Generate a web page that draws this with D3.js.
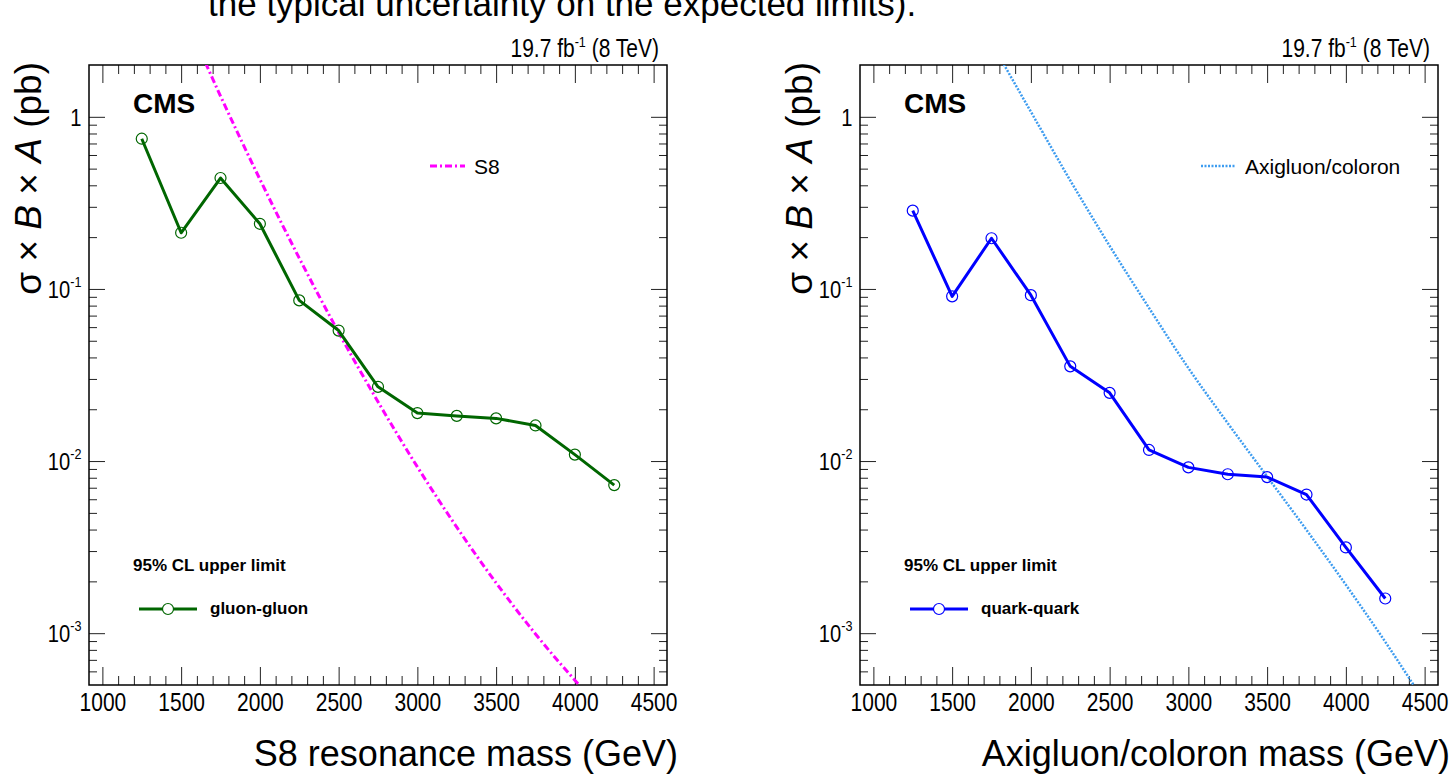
<!DOCTYPE html>
<html>
<head>
<meta charset="utf-8">
<script src="https://cdn.jsdelivr.net/npm/d3@7"></script>
<style>
  html, body { margin: 0; padding: 0; background: #fff; }
  svg { display: block; }
  text { font-family: "Liberation Sans", Arial, Helvetica, sans-serif; fill: #000; }
</style>
</head>
<body>
<svg id="chart" width="1451" height="774"></svg>
<script>
// --- data ---
const massPoints = [1250, 1500, 1750, 2000, 2250, 2500, 2750, 3000, 3250, 3500, 3750, 4000, 4250];
const gluonLimit = [0.746, 0.212, 0.441, 0.239, 0.0858, 0.0573, 0.0270, 0.0190, 0.0183, 0.0177, 0.0161, 0.0109, 0.00725];
const quarkLimit = [0.285, 0.0906, 0.197, 0.0920, 0.0355, 0.0249, 0.0116, 0.00919, 0.00838, 0.00807, 0.00639, 0.00315, 0.00159];

// theory curves
const s8Mass = [1500, 1750, 2000, 2250, 2500, 2750, 3000, 3250, 3500, 3750, 4000, 4250];
const s8Xsec = [4.3, 1.32, 0.434, 0.151, 0.0559, 0.0221, 0.00925, 0.00413, 0.00196, 0.00099, 0.000533, 0.000305];
const axiMass = [1750, 2000, 2250, 2500, 2750, 3000, 3250, 3500, 3750, 4000, 4250, 4500];
const axiXsec = [2.69, 1.07, 0.427, 0.178, 0.0776, 0.0347, 0.0166, 0.00813, 0.00398, 0.00191, 0.000891, 0.000398];

const xMajorTicks = [1000, 1500, 2000, 2500, 3000, 3500, 4000, 4500];
const yMajorExp = [0, -1, -2, -3];

const svg = d3.select("#chart");
const NARROW = 0.84; // ROOT labels are drawn in a condensed face

// slide text cut at the top
svg.append("text")
    .attr("x", 208).attr("y", 16)
    .attr("font-size", 35)
    .text("the typical uncertainty on the expected limits).");

function drawPanel(dx, opt) {
    const left = 89 + dx, right = 667 + dx, top = 65, bottom = 685;
    const g = svg.append("g");

    const x = d3.scaleLinear().domain([915, 4585]).range([left, right]);
    const y = d3.scaleLog().domain([5e-4, 2]).range([bottom, top]);

    const clipId = "clip" + dx;
    g.append("clipPath").attr("id", clipId)
        .append("rect").attr("x", left).attr("y", top)
        .attr("width", right - left).attr("height", bottom - top);

    // x ticks
    const xMinor = d3.range(1000, 4600, 100).filter(v => v % 500 !== 0 && v > 915 && v < 4585);
    const bottomAxis = g.append("g").attr("transform", `translate(0,${bottom})`)
        .call(d3.axisBottom(x).tickValues(xMajorTicks).tickSize(-18).tickPadding(8).tickFormat(d3.format("d")));
    bottomAxis.selectAll("text")
        .attr("font-family", null).attr("font-size", 25)
        .attr("transform", `scale(${NARROW},1)`);
    g.append("g").attr("transform", `translate(0,${bottom})`)
        .call(d3.axisBottom(x).tickValues(xMinor).tickSize(-9).tickFormat(""));
    g.append("g").attr("transform", `translate(0,${top})`)
        .call(d3.axisTop(x).tickValues(xMajorTicks).tickSize(-18).tickFormat(""));
    g.append("g").attr("transform", `translate(0,${top})`)
        .call(d3.axisTop(x).tickValues(xMinor).tickSize(-9).tickFormat(""));

    // y ticks (log)
    const yMajor = yMajorExp.map(e => Math.pow(10, e));
    const yMinor = [];
    [-4, -3, -2, -1, 0].forEach(e => {
        for (let k = 2; k <= 9; k++) {
            const v = k * Math.pow(10, e);
            if (v > 5e-4 && v < 2) yMinor.push(v);
        }
    });
    const leftAxis = g.append("g").attr("transform", `translate(${left},0)`)
        .call(d3.axisLeft(y).tickValues(yMajor).tickSize(-16).tickPadding(9).tickFormat(""));
    leftAxis.selectAll(".tick").each(function(d, i) {
        const e = yMajorExp[i];
        const t = d3.select(this).select("text")
            .attr("font-family", null)
            .attr("font-size", 24).attr("dy", "0.36em")
            .attr("transform", `scale(${NARROW},1)`);
        if (e === 0) {
            t.text("1");
        } else {
            t.append("tspan").text("10");
            t.append("tspan").attr("font-size", 15).attr("dy", "-0.75em").text(String(e));
        }
    });
    g.append("g").attr("transform", `translate(${left},0)`)
        .call(d3.axisLeft(y).tickValues(yMinor).tickSize(-8).tickFormat(""));
    g.append("g").attr("transform", `translate(${right},0)`)
        .call(d3.axisRight(y).tickValues(yMajor).tickSize(-16).tickFormat(""));
    g.append("g").attr("transform", `translate(${right},0)`)
        .call(d3.axisRight(y).tickValues(yMinor).tickSize(-8).tickFormat(""));

    g.selectAll(".domain").remove();
    g.selectAll(".tick line").attr("stroke", "#222").attr("stroke-width", 1);

    // frame
    g.append("rect").attr("x", left).attr("y", top)
        .attr("width", right - left).attr("height", bottom - top)
        .attr("fill", "none").attr("stroke", "#000").attr("stroke-width", 1.5);

    // theory curve
    const theory = opt.theoryMass.map((m, i) => [m, opt.theoryXsec[i]]);
    g.append("path")
        .datum(theory)
        .attr("clip-path", `url(#${clipId})`)
        .attr("fill", "none")
        .attr("stroke", opt.theoryColor)
        .attr("stroke-width", opt.theoryWidth)
        .attr("stroke-dasharray", opt.theoryDash)
        .attr("d", d3.line().x(d => x(d[0])).y(d => y(d[1])).curve(d3.curveMonotoneX));

    // limit line + markers
    const pts = massPoints.map((m, i) => [m, opt.limit[i]]);
    g.append("path")
        .datum(pts)
        .attr("clip-path", `url(#${clipId})`)
        .attr("fill", "none")
        .attr("stroke", opt.color)
        .attr("stroke-width", 3)
        .attr("stroke-linejoin", "round")
        .attr("d", d3.line().x(d => x(d[0])).y(d => y(d[1])));
    g.selectAll(null).data(pts).join("circle")
        .attr("cx", d => x(d[0])).attr("cy", d => y(d[1]))
        .attr("r", 5.5)
        .attr("fill", "none")
        .attr("stroke", opt.color)
        .attr("stroke-width", 1.2);

    // lumi label
    g.append("g").attr("transform", `translate(${right - 8},57) scale(${NARROW},1)`)
        .append("text")
        .attr("font-size", 25).attr("text-anchor", "end")
        .call(t => {
            t.append("tspan").text("19.7 fb");
            t.append("tspan").attr("font-size", 15).attr("dy", "-0.7em").text("-1");
            t.append("tspan").attr("dy", "0.42em").text(" (8 TeV)");
        });

    g.append("text").attr("x", left + 44).attr("y", 113)
        .attr("font-size", 28).attr("font-weight", "bold").text("CMS");

    g.append("text").attr("x", left + 44).attr("y", 571)
        .attr("font-size", 17).attr("font-weight", "bold").text("95% CL upper limit");

    // limit legend
    g.append("line").attr("x1", left + 50).attr("x2", left + 108)
        .attr("y1", 609).attr("y2", 609)
        .attr("stroke", opt.color).attr("stroke-width", 3);
    g.append("circle").attr("cx", left + 79).attr("cy", 609).attr("r", 5.5)
        .attr("fill", "#fff").attr("stroke", opt.color).attr("stroke-width", 1.2);
    g.append("text").attr("x", left + 121).attr("y", 614)
        .attr("font-size", 17).attr("font-weight", "bold").text(opt.limitLabel);

    // theory legend
    g.append("line").attr("x1", opt.legX).attr("x2", opt.legX + 35)
        .attr("y1", 166).attr("y2", 166)
        .attr("stroke", opt.theoryColor).attr("stroke-width", opt.theoryWidth)
        .attr("stroke-dasharray", opt.theoryDash);
    g.append("text").attr("x", opt.legX + 44).attr("y", 174)
        .attr("font-size", 21).text(opt.theoryLabel);

    // axis titles
    g.append("text").attr("x", opt.xTitleRight).attr("y", 766)
        .attr("font-size", 36).attr("text-anchor", "end").text(opt.xTitle);

    g.append("text")
        .attr("transform", `translate(${left - 48},62) rotate(-90)`)
        .attr("font-size", 37).attr("text-anchor", "end")
        .call(t => {
            t.append("tspan").text("σ × ");
            t.append("tspan").attr("font-style", "italic").text("B");
            t.append("tspan").text(" × ");
            t.append("tspan").attr("font-style", "italic").text("A");
            t.append("tspan").text(" (pb)");
        });
}

drawPanel(0, {
    limit: gluonLimit,
    color: "#006600",
    limitLabel: "gluon-gluon",
    theoryMass: s8Mass,
    theoryXsec: s8Xsec,
    theoryColor: "#ff00ff",
    theoryWidth: 3,
    theoryDash: "7 3 2 3",
    theoryLabel: "S8",
    legX: 430,
    xTitle: "S8 resonance mass (GeV)",
    xTitleRight: 678
});

drawPanel(771, {
    limit: quarkLimit,
    color: "#0000ff",
    limitLabel: "quark-quark",
    theoryMass: axiMass,
    theoryXsec: axiXsec,
    theoryColor: "#3d9cf0",
    theoryWidth: 2.5,
    theoryDash: "2 1.5",
    theoryLabel: "Axigluon/coloron",
    legX: 1201,
    xTitle: "Axigluon/coloron mass (GeV)",
    xTitleRight: 1450
});
</script>
</body>
</html>
